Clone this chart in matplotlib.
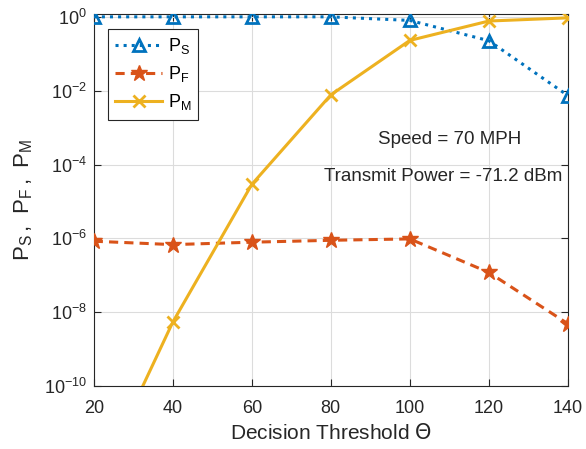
import numpy as np
import matplotlib
matplotlib.use("Agg")
import matplotlib.pyplot as plt
from matplotlib.ticker import FixedLocator, FuncFormatter, NullLocator

plt.rcParams['font.family'] = ['Liberation Sans', 'DejaVu Sans']

theta = [20, 40, 60, 80, 100, 120, 140]
p_s = [1.0, 1.0, 1.0, 1.0, 0.8, 0.226, 0.0074]
p_f = [8.4e-7, 6.8e-7, 7.9e-7, 8.9e-7, 9.7e-7, 1.2e-7, 4.9e-9]
p_m = [1.5e-13, 5.4e-9, 2.9e-5, 7.7e-3, 0.23, 0.77, 0.94]

blue = "#0072BD"
red = "#D95319"
yellow = "#EDB120"
txt = "#262626"

fig = plt.figure(figsize=(5.86, 4.49), dpi=100)
ax = fig.add_axes([0.160, 0.140, 0.809, 0.829])

ax.plot(theta, p_s, color=blue, ls=":", lw=2.2, marker="^", ms=8,
        mfc="none", mew=2, label=r"$\mathregular{P_S}$", zorder=3)
ax.plot(theta, p_f, color=red, ls="--", lw=2.2, marker="*", ms=12,
        mfc=red, mew=1, label=r"$\mathregular{P_F}$", dashes=(3, 2), zorder=3)
ax.plot(theta, p_m, color=yellow, ls="-", lw=2.2, marker="x", ms=8,
        mew=2, label=r"$\mathregular{P_M}$", zorder=3)

ax.set_yscale("log")
ax.set_xlim(20, 140)
ax.set_ylim(1e-10, 1.2)
ax.yaxis.set_major_locator(FixedLocator([1e-10, 1e-8, 1e-6, 1e-4, 1e-2, 1e0]))
ax.yaxis.set_minor_locator(NullLocator())
ax.yaxis.set_major_formatter(FuncFormatter(
    lambda v, p: r"$\mathregular{10^{%d}}$" % int(round(np.log10(v)))))
ax.set_xticks(theta)

ax.grid(True, color="#dcdcdc", lw=0.8)
ax.set_axisbelow(True)
ax.tick_params(direction="in", labelsize=13, colors=txt, length=5, top=True, right=True)
ax.tick_params(axis="x", pad=10)
ax.tick_params(axis="y", pad=5)
for s in ax.spines.values():
    s.set_color(txt)
    s.set_linewidth(0.8)

ax.set_xlabel(r"Decision Threshold $\Theta$", fontsize=15, color=txt, labelpad=4)
ax.set_ylabel(r"$\mathregular{P_S\,,\ P_F\,,\ P_M}$", fontsize=16, color=txt, labelpad=6)

ax.text(110, 4.7e-4, "Speed = 70 MPH", fontsize=13.5, color=txt, ha="center", va="center")
ax.text(108.5, 4.7e-5, "Transmit Power = -71.2 dBm", fontsize=13.5, color=txt,
        ha="center", va="center")

leg = ax.legend(loc="upper left", bbox_to_anchor=(0.03, 0.96), borderaxespad=0,
                fontsize=13, fancybox=False, framealpha=1, edgecolor=txt,
                handlelength=2.6, borderpad=0.4, labelspacing=0.45, handletextpad=0.3)
leg.get_frame().set_linewidth(0.8)

plt.savefig("out.png", dpi=100)
